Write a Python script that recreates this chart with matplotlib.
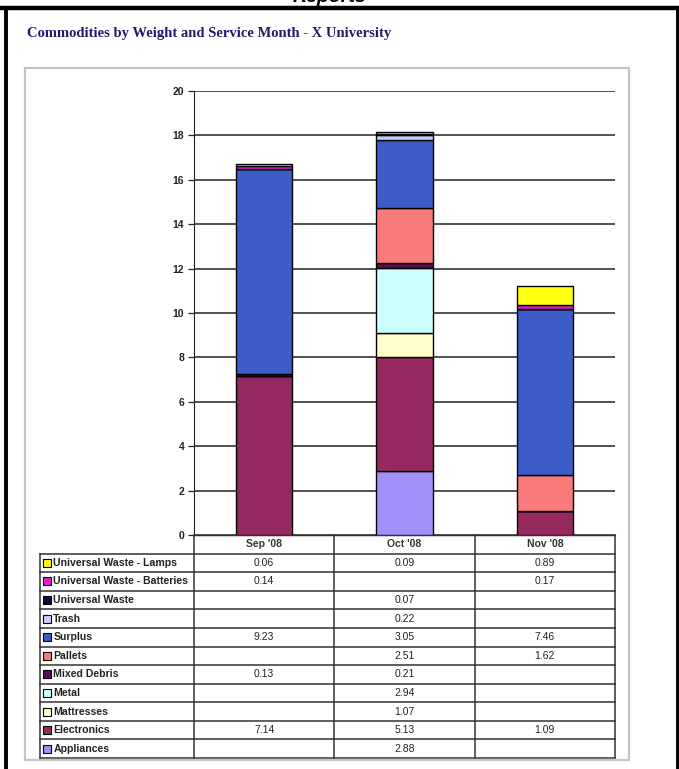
import matplotlib.pyplot as plt
from matplotlib.patches import Rectangle
from matplotlib.lines import Line2D

# data (None = blank cell)
months = ["Sep '08", "Oct '08", "Nov '08"]
appliances = [None, 2.88, None]
electronics = [7.14, 5.13, 1.09]
mattresses = [None, 1.07, None]
metal = [None, 2.94, None]
mixed_debris = [0.13, 0.21, None]
pallets = [None, 2.51, 1.62]
surplus = [9.23, 3.05, 7.46]
trash = [None, 0.22, None]
universal_waste = [None, 0.07, None]
uw_batteries = [0.14, None, 0.17]
uw_lamps = [0.06, 0.09, 0.89]

# bottom of the stack first
series = [
    ("Appliances", appliances, "#a290f8"),
    ("Electronics", electronics, "#962a60"),
    ("Mattresses", mattresses, "#ffffcc"),
    ("Metal", metal, "#ccffff"),
    ("Mixed Debris", mixed_debris, "#5c0c54"),
    ("Pallets", pallets, "#f87a7a"),
    ("Surplus", surplus, "#3e5cc8"),
    ("Trash", trash, "#ccccff"),
    ("Universal Waste", universal_waste, "#0c0c44"),
    ("Universal Waste - Batteries", uw_batteries, "#e020d0"),
    ("Universal Waste - Lamps", uw_lamps, "#ffff10"),
]

W, H = 679, 769
fig = plt.figure(figsize=(W / 100, H / 100), dpi=100)
fig.patch.set_facecolor("white")

# page frame (thick black border, light gray chart box)
fig.add_artist(Line2D([0, 1], [1 - 8 / H, 1 - 8 / H], color="black", lw=3.2))
fig.add_artist(Line2D([5.5 / W, 5.5 / W], [0, 1 - 8 / H], color="black", lw=2.8))
fig.add_artist(Line2D([677.5 / W, 677.5 / W], [0, 1 - 8 / H], color="black", lw=2.8))
fig.add_artist(Rectangle((25 / W, 1 - 760 / H), (629 - 25) / W, (760 - 68) / H,
                         fill=False, ec="#c4c4c4", lw=1.6))

# heading of the page above, mostly cut off in the source image
fig.text(330 / W, 1 - 2 / H, "Reports", ha="center", va="baseline",
         fontsize=14, fontweight="bold", style="italic", family="Liberation Sans")
fig.text(27 / W, 1 - 34 / H, "Commodities by Weight and Service Month - X University",
         ha="left", va="center", fontsize=10.5, fontweight="bold",
         family="Liberation Serif", color="#221a6a")

# chart area
ax = fig.add_axes([194 / W, 1 - 535 / H, (615 - 194) / W, (535 - 91) / H])
x = list(range(len(months)))
bottom = [0.0] * len(months)
for name, vals, color in series:
    v = [0.0 if val is None else val for val in vals]
    ax.bar(x, v, 0.4, bottom=bottom, color=color, edgecolor="black", lw=1.0, zorder=3)
    bottom = [b + a for b, a in zip(bottom, v)]

ax.set_xlim(-0.5, 2.5)
ax.set_ylim(0, 20)
ax.set_yticks(range(0, 21, 2))
ax.set_xticks([])
ax.yaxis.grid(True, color="#333333", lw=1.2, zorder=0)
ax.set_axisbelow(True)
for s in ["top", "right"]:
    ax.spines[s].set_visible(False)
ax.spines["left"].set_color("#222222")
ax.spines["bottom"].set_color("#222222")
ax.tick_params(axis="y", length=4, width=0.9, color="#222222", pad=3)
for lab in ax.get_yticklabels():
    lab.set_fontsize(7.5)
    lab.set_fontweight("bold")
    lab.set_family("Liberation Sans")
    lab.set_color("#222222")

# data table below the chart
tax = fig.add_axes([40 / W, 1 - 758 / H, (615 - 40) / W, (758 - 535) / H])
lab_w = (194 - 40) / ((615 - 194) / 3)
x0 = -0.5 - lab_w
nrows = len(series) + 1
tax.set_xlim(x0, 2.5)
tax.set_ylim(nrows, 0)
tax.axis("off")

lc = "#333333"
tax.plot([-0.5, 2.5], [0, 0], color=lc, lw=1)
for r in range(1, nrows + 1):
    tax.plot([x0, 2.5], [r, r], color=lc, lw=1.1, clip_on=False)
tax.plot([x0, x0], [1, nrows], color=lc, lw=1.1, clip_on=False)
for cx in [-0.5, 0.5, 1.5, 2.5]:
    tax.plot([cx, cx], [0, nrows], color=lc, lw=1.1, clip_on=False)

for i, m in enumerate(months):
    tax.text(i, 0.5, m, ha="center", va="center", fontsize=7.5, fontweight="bold",
             family="Liberation Sans", color="#333333")

for r, (name, vals, color) in enumerate(reversed(series), start=1):
    tax.plot(x0 + 0.05, r + 0.5, marker="s", ms=5.5, mfc=color, mec="black",
             mew=0.8, clip_on=False)
    tax.text(x0 + 0.095, r + 0.5, name, ha="left", va="center", fontsize=7.6,
             fontweight="bold", family="Liberation Sans", color="#222222")
    for i, val in enumerate(vals):
        if val is not None:
            tax.text(i, r + 0.5, f"{val:.2f}", ha="center", va="center",
                     fontsize=7.5, family="Liberation Sans", color="#222222")

fig.savefig("out.png", dpi=100)
